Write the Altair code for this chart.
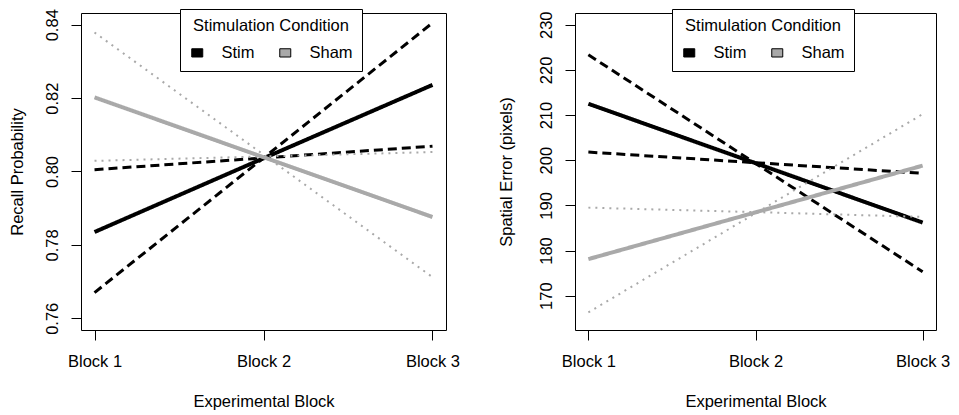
import json
import altair as alt
import pandas as pd

FONT = "Liberation Sans, Arial, Helvetica, sans-serif"
FS = 16.5

blocks = [1, 2, 3]
block_labels = ["Block 1", "Block 2", "Block 3"]
groups = ["Stim", "Sham"]
group_colors = ["#000000", "#a9a9a9"]
styles = ["solid", "dashed", "dotted"]

# Left panel: recall probability
recall_stim_fit = [0.7835, 0.8036, 0.8236]
recall_stim_band_a = [0.7670, 0.8037, 0.8405]
recall_stim_band_b = [0.8005, 0.8037, 0.8069]
recall_sham_fit = [0.8202, 0.8039, 0.7876]
recall_sham_band_a = [0.8379, 0.8046, 0.7712]
recall_sham_band_b = [0.8029, 0.8041, 0.8053]
recall_ticks = [0.76, 0.78, 0.80, 0.82, 0.84]
recall_domain = [0.7568, 0.8432]

# Right panel: spatial error
error_stim_fit = [212.5, 199.35, 186.2]
error_stim_band_a = [223.35, 199.3, 175.3]
error_stim_band_b = [201.8, 199.45, 197.1]
error_sham_fit = [178.1, 188.45, 198.8]
error_sham_band_a = [166.3, 188.25, 210.2]
error_sham_band_b = [189.5, 188.5, 187.45]
error_ticks = [170, 180, 190, 200, 210, 220, 230]
error_domain = [162.4, 232.6]

x_domain = [0.92, 3.08]


def build(series):
    rows = []
    for name, group, style, vals in series:
        for b, v in zip(blocks, vals):
            rows.append({"series": name, "group": group, "style": style,
                         "block": b, "value": v})
    return pd.DataFrame(rows)


recall_df = build([
    ("Stim fit", "Stim", "solid", recall_stim_fit),
    ("Stim band a", "Stim", "dashed", recall_stim_band_a),
    ("Stim band b", "Stim", "dashed", recall_stim_band_b),
    ("Sham fit", "Sham", "solid", recall_sham_fit),
    ("Sham band a", "Sham", "dotted", recall_sham_band_a),
    ("Sham band b", "Sham", "dotted", recall_sham_band_b),
])
error_df = build([
    ("Stim fit", "Stim", "solid", error_stim_fit),
    ("Stim band a", "Stim", "dashed", error_stim_band_a),
    ("Stim band b", "Stim", "dashed", error_stim_band_b),
    ("Sham fit", "Sham", "solid", error_sham_fit),
    ("Sham band a", "Sham", "dotted", error_sham_band_a),
    ("Sham band b", "Sham", "dotted", error_sham_band_b),
])

label_expr = json.dumps(block_labels) + "[datum.value - 1]"
KEY_PATH = "M-1,-0.75L1,-0.75L1,0.75L-1,0.75Z"


def panel(df, y_domain, y_ticks, y_title, y_format, width, y_title_pad, legend_x):
    x = alt.X("block:Q",
              scale=alt.Scale(domain=x_domain, nice=False, zero=False),
              axis=alt.Axis(values=blocks, labelExpr=label_expr,
                            title="Experimental Block", tickSize=10,
                            labelPadding=13, titlePadding=24, domain=False,
                            grid=False, labelFlush=False))
    y = alt.Y("value:Q",
              scale=alt.Scale(domain=y_domain, nice=False, zero=False),
              axis=alt.Axis(values=y_ticks, format=y_format, title=y_title,
                            labelAngle=270, labelAlign="center",
                            labelBaseline="bottom", tickSize=10,
                            labelPadding=11, titlePadding=y_title_pad,
                            domain=False, grid=False, labelFlush=False))
    base = alt.Chart(df).encode(x=x, y=y)
    lines = base.mark_line().encode(
        detail="series:N",
        stroke=alt.Stroke("group:N",
                          scale=alt.Scale(domain=groups, range=group_colors),
                          legend=None),
        strokeDash=alt.StrokeDash("style:N",
                                  scale=alt.Scale(domain=styles,
                                                  range=[[1, 0], [9, 5], [2, 5]]),
                                  legend=None),
        strokeWidth=alt.StrokeWidth("style:N",
                                    scale=alt.Scale(domain=styles,
                                                    range=[4, 2, 2]),
                                    legend=None),
    )
    keys = base.transform_filter(alt.datum.style == "solid").mark_point(
        shape="square", filled=True, opacity=0, size=1
    ).encode(
        fill=alt.Fill("group:N",
                      scale=alt.Scale(domain=groups, range=group_colors),
                      legend=alt.Legend(
                          title="Stimulation Condition", orient="none",
                          legendX=legend_x, legendY=-4, direction="horizontal",
                          titleAnchor="middle", titleOrient="top",
                          titleFontSize=FS, titleFontWeight="normal",
                          titleColor="black", titlePadding=10,
                          labelFontSize=FS, labelColor="black",
                          symbolType=KEY_PATH, symbolSize=121,
                          symbolStrokeColor="black", symbolStrokeWidth=1,
                          symbolOpacity=1, labelOffset=16, columnPadding=22,
                          strokeColor="black", fillColor="white", padding=9,
                      ))
    )
    return alt.layer(lines, keys).properties(width=width, height=317)


left = panel(recall_df, recall_domain, recall_ticks, "Recall Probability",
             ".2f", 365, 19, 99)
right = panel(error_df, error_domain, error_ticks, "Spatial Error (pixels)",
              "d", 361, 24, 97)

chart = alt.hconcat(left, right, spacing=36).resolve_scale(
    fill="independent"
).properties(padding=0).configure(font=FONT).configure_view(
    stroke="black", strokeWidth=1
).configure_axis(
    labelFontSize=FS, titleFontSize=FS, titleFontWeight="normal",
    labelColor="black", titleColor="black", tickColor="black", tickWidth=1,
    labelFont=FONT, titleFont=FONT
)

chart.save("out.html", embed_options={"renderer": "svg", "actions": False})
